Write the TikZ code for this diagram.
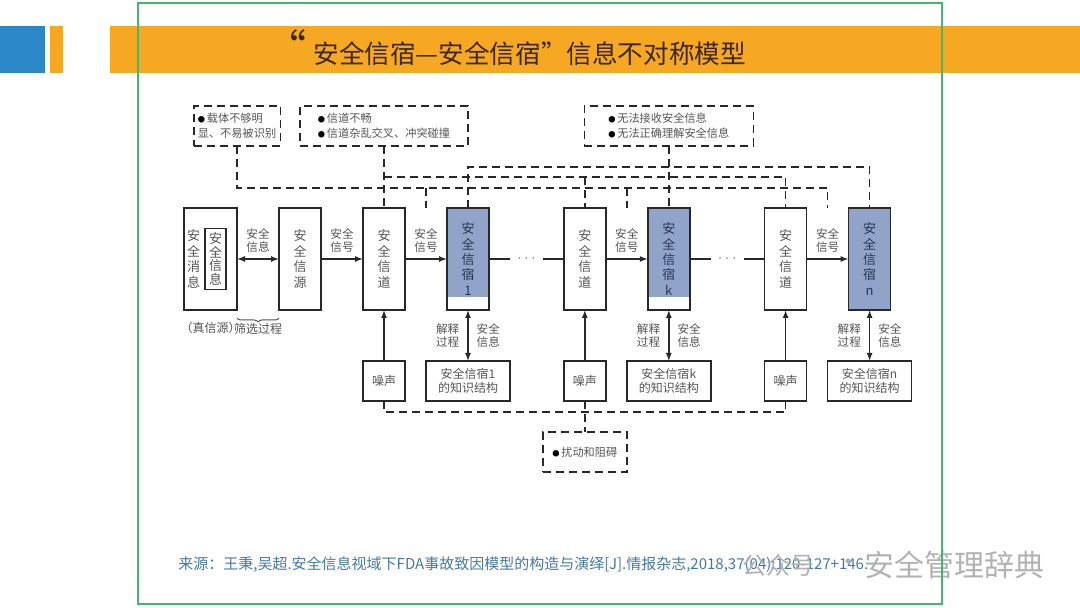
\documentclass[tikz,border=0pt]{standalone}
\usepackage{fontspec}
\setmainfont{Noto Sans CJK SC}
\usetikzlibrary{arrows.meta, positioning, calc, decorations.pathreplacing}

\definecolor{barorange}{RGB}{247,168,35}
\definecolor{barblue}{RGB}{43,135,200}
\definecolor{framegreen}{RGB}{70,180,115}
\definecolor{sinkblue}{RGB}{143,164,200}
\definecolor{textgray}{RGB}{85,85,85}
\definecolor{linegray}{RGB}{40,40,40}
\definecolor{sinktext}{RGB}{40,52,85}
\definecolor{reftext}{RGB}{70,120,165}
\definecolor{titletext}{RGB}{60,40,20}

\newcommand{\bul}{{\color{black}\fontsize{3.6}{3.6}\selectfont ●}\,}

\begin{document}
\begin{tikzpicture}[
    x=0.5pt, y=-0.5pt,
    node distance=21pt,
    box/.style={draw=linegray, line width=0.7pt, outer sep=0pt, inner sep=0pt, minimum width=21pt, minimum height=51pt, align=center, text=textgray, font=\fontsize{6.5}{7.7}\selectfont},
    sink/.style={box, text=sinktext, path picture={\fill[sinkblue] (path picture bounding box.north west) rectangle ([yshift=6.5pt]path picture bounding box.south east);}},
    smallbox/.style={draw=linegray, line width=0.7pt, outer sep=0pt, inner sep=0pt, minimum width=21pt, minimum height=20pt, align=center, text=textgray, font=\fontsize{6}{7}\selectfont},
    note/.style={draw=linegray, dash pattern=on 4pt off 2.5pt, line width=0.7pt, outer sep=0pt, inner xsep=2pt, inner ysep=0pt, minimum height=20pt, align=left, text=textgray, font=\fontsize{5.6}{7.5}\selectfont},
    lbl/.style={align=center, text=textgray, font=\fontsize{5.8}{6.6}\selectfont, inner sep=0pt},
    dots/.style={inner sep=0pt, minimum width=16pt, text=textgray, font=\fontsize{6}{7}\selectfont},
    arrow/.style={-{Latex[length=4pt,width=3pt]}, line width=0.7pt, linegray},
    twoway/.style={{Latex[length=4pt,width=3pt]}-{Latex[length=4pt,width=3pt]}, line width=0.7pt, linegray},
    link/.style={dash pattern=on 4pt off 2.5pt, line width=0.7pt, linegray}
]
\useasboundingbox (0,0) rectangle (1080,608);

% title bar
\fill[barblue] (0,26) rectangle (45,73);
\fill[barorange] (50,26) rectangle (63,73);
\fill[barorange] (110,26) rectangle (1080,73);
\node[font=\fontsize{20}{20}\selectfont, text=titletext, inner sep=0pt] (quote) at (286,47) {“};
\node[anchor=west, font=\fontsize{12.8}{14}\selectfont, text=titletext, inner sep=0pt] (title) at (313,54) {安全信宿—安全信宿”信息不对称模型};

% main chain
\node[box, minimum width=26.5pt] (msg) at (210.5,259) {};
\node[box, right=of msg] (src) {安\\全\\信\\源};
\node[box, right=of src] (ch1) {安\\全\\信\\道};
\node[sink, right=of ch1] (sink1) {安\\全\\信\\宿\\1};
\node[dots, right=10.5pt of sink1] (dots1) {$\cdots$};
\node[box, right=10.5pt of dots1] (ch2) {安\\全\\信\\道};
\node[sink, right=of ch2] (sinkk) {安\\全\\信\\宿\\k};
\node[dots, right=10.5pt of sinkk] (dots2) {$\cdots$};
\node[box, right=10.5pt of dots2] (ch3) {安\\全\\信\\道};
\node[box, fill=sinkblue, text=sinktext, right=of ch3] (sinkn) {安\\全\\信\\宿\\n};

% inside the true source
\node[lbl, font=\fontsize{6.5}{7.7}\selectfont] (msgtxt) at ([xshift=-8.5pt]msg.center) {安\\全\\消\\息};
\node[box, minimum width=10.5pt, minimum height=30.5pt, font=\fontsize{6.5}{6.8}\selectfont] (inner) at ([xshift=2.5pt]msg.center) {安\\全\\信\\息};
\node[lbl, font=\fontsize{6}{7}\selectfont, below=6pt of msg] (truesrc) {（真信源）};
\draw[decorate, decoration={brace, mirror, amplitude=2pt}, line width=0.5pt, textgray]
    ([yshift=-4pt]msg.south east) -- ([yshift=-4pt]src.south west)
    node[lbl, midway, below=2.5pt, font=\fontsize{6}{7}\selectfont] (filter) {筛选过程};

\draw[twoway] (msg) -- (src) node[lbl, midway, above=3pt] {安全\\信息};
\draw[arrow] (src) -- (ch1) node[lbl, midway, above=3pt] {安全\\信号};
\draw[arrow] (ch1) -- (sink1) node[lbl, midway, above=3pt] {安全\\信号};
\draw[line width=0.7pt, linegray] (sink1) -- (dots1) -- (ch2);
\draw[arrow] (ch2) -- (sinkk) node[lbl, midway, above=3pt] {安全\\信号};
\draw[line width=0.7pt, linegray] (sinkk) -- (dots2) -- (ch3);
\draw[arrow] (ch3) -- (sinkn) node[lbl, midway, above=3pt] {安全\\信号};

% noise and knowledge
\node[smallbox, below=25.5pt of ch1] (noise1) {噪声};
\node[smallbox, minimum width=42pt, below=25.5pt of sink1] (know1) {安全信宿1\\的知识结构};
\node[smallbox, below=25.5pt of ch2] (noise2) {噪声};
\node[smallbox, minimum width=42pt, below=25.5pt of sinkk] (knowk) {安全信宿k\\的知识结构};
\node[smallbox, below=25.5pt of ch3] (noise3) {噪声};
\node[smallbox, minimum width=42pt, below=25.5pt of sinkn] (known) {安全信宿n\\的知识结构};

\draw[arrow] (noise1) -- (ch1);
\draw[arrow] (noise2) -- (ch2);
\draw[arrow] (noise3) -- (ch3);
\foreach \s/\k in {sink1/know1, sinkk/knowk, sinkn/known} {
    \draw[twoway] (\k) -- (\s)
        node[lbl, midway, left=4pt] {解释\\过程}
        node[lbl, midway, right=4pt] {安全\\信息};
}

% barriers
\node[note, minimum width=43pt, above=31pt of msg.north east] (note1) {\bul 载体不够明\\显、不易被识别};
\node[note, minimum width=84pt, above=31pt of ch1] (note2) {\bul 信道不畅\\\bul 信道杂乱交叉、冲突碰撞};
\node[note, minimum width=84.5pt, above=31pt of sinkk] (note3) {\bul 无法接收安全信息\\\bul 无法正确理解安全信息};
\node[note, minimum width=42pt, below=15.5pt of noise2] (dist) {\bul 扰动和阻碍};

\coordinate (tap1) at ($(ch1.north east)!.5!(sink1.north west)$);
\coordinate (tap2) at ($(ch2.north east)!.5!(sinkk.north west)$);
\coordinate (tap3) at ($(ch3.north east)!.5!(sinkn.north west)$);

\draw[link] (note1.south) |- ([yshift=10pt]tap3) -- (tap3);
\draw[link] ([yshift=10pt]tap1) -- (tap1);
\draw[link] ([yshift=10pt]tap2) -- (tap2);
\draw[link] (note2.south) -- (ch1.north);
\draw[link] ([yshift=15.5pt]ch1.north) -| (ch3.north);
\draw[link] ([yshift=15.5pt]ch2.north) -- (ch2.north);
\draw[link] (note3.south) -- (sinkk.north);
\draw[link] (sink1.north) |- ([yshift=20.5pt]sinkn.north) -- (sinkn.north);
\draw[link] (noise1.south) |- ([yshift=-5.5pt]noise3.south) -- (noise3.south);
\draw[link] (noise2.south) -- (dist.north);

% footer
\node[anchor=west, inner sep=0pt, text=reftext, font=\fontsize{7.5}{8}\selectfont] (source) at (178,565) {来源：王秉,吴超.安全信息视域下FDA事故致因模型的构造与演绎[J].情报杂志,2018,37(04):120-127+146.};
\node[anchor=west, inner sep=0pt, text=black!30, font=\fontsize{12}{14}\selectfont] (wm1) at (742,565) {公众号};
\node[anchor=west, inner sep=0pt, text=black!30, font=\fontsize{12}{14}\selectfont] (wmdot) at (836,565) {·};
\node[anchor=west, inner sep=0pt, text=black!30, font=\fontsize{15}{17}\selectfont] (wm2) at (864,565) {安全管理辞典};

% frame
\draw[framegreen, line width=1.4pt] (138,3) rectangle (942,604);
\end{tikzpicture}
\end{document}
